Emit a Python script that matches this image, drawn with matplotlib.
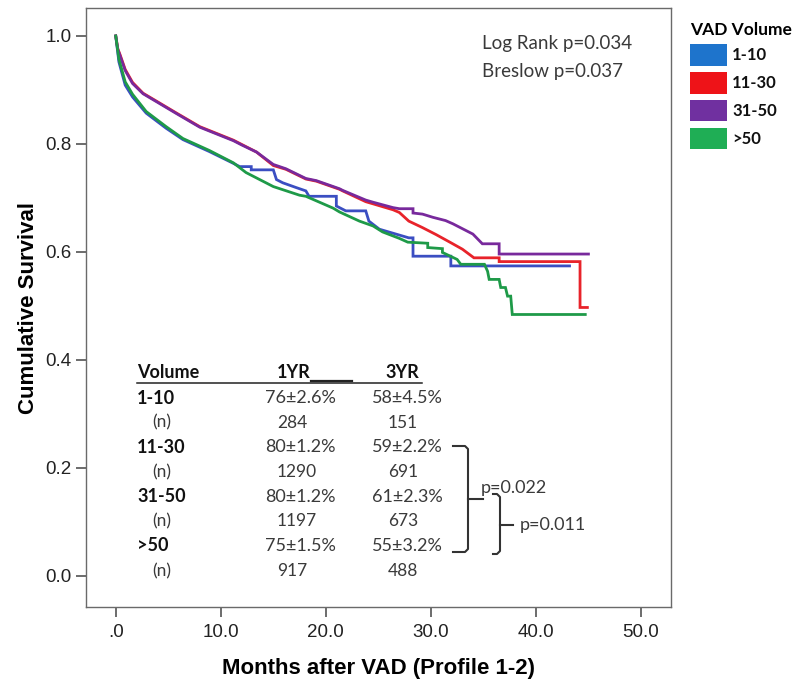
import matplotlib
matplotlib.use('Agg')
import matplotlib.pyplot as plt
from matplotlib.patches import Patch
from matplotlib.lines import Line2D

W, H = 800, 691

# ---------------- data ----------------
groups = ['1-10', '11-30', '31-50', '>50']
line_colors = ['#3b4ec2', '#e8232a', '#78299c', '#1e9a48']
legend_colors = ['#1e74cc', '#ee1318', '#7030a0', '#1fae55']

t_1_10 = [0, 0.3, 0.9, 1.6, 2.9, 4.8, 6.4, 8.9, 11.2, 11.8, 12.9, 12.9, 15.0, 15.3, 15.9, 17.2, 18.1, 18.4,
          21.0, 21.0, 21.9, 23.8, 24.1, 25.1, 27.9, 28.3, 28.3, 31.9, 31.9, 43.2]
s_1_10 = [1.0, 0.952, 0.909, 0.887, 0.857, 0.829, 0.808, 0.786, 0.764, 0.758, 0.758, 0.752, 0.752, 0.734,
          0.728, 0.719, 0.713, 0.703, 0.703, 0.685, 0.676, 0.676, 0.657, 0.642, 0.626, 0.626, 0.592, 0.592,
          0.574, 0.574]

t_11_30 = [0, 0.2, 0.4, 0.9, 1.6, 2.6, 3.9, 5.8, 8.0, 11.2, 12.0, 13.4, 15.0, 16.2, 18.1, 19.1, 21.3, 21.6,
           23.8, 24.5, 26.4, 27.0, 27.9, 29.2, 30.5, 31.9, 33.0, 34.1, 36.5, 36.5, 44.2, 44.2, 44.9]
s_11_30 = [1.0, 0.976, 0.966, 0.938, 0.914, 0.894, 0.879, 0.857, 0.832, 0.807, 0.799, 0.785, 0.760, 0.753,
           0.735, 0.731, 0.716, 0.713, 0.693, 0.689, 0.678, 0.673, 0.657, 0.645, 0.632, 0.617, 0.605, 0.589,
           0.589, 0.582, 0.582, 0.497, 0.497]

t_31_50 = [0, 0.2, 0.4, 0.9, 1.6, 2.6, 3.9, 5.8, 8.0, 11.2, 12.0, 13.4, 15.0, 16.2, 18.1, 19.1, 21.3, 21.6,
           23.8, 24.5, 26.4, 27.0, 28.3, 28.3, 29.2, 30.2, 31.4, 32.1, 32.7, 33.3, 34.0, 34.6, 34.9, 36.5,
           36.5, 45.0]
s_31_50 = [1.0, 0.975, 0.964, 0.936, 0.912, 0.893, 0.878, 0.856, 0.831, 0.806, 0.798, 0.785, 0.762, 0.754,
           0.736, 0.732, 0.717, 0.714, 0.696, 0.692, 0.682, 0.680, 0.680, 0.672, 0.670, 0.664, 0.658, 0.652,
           0.646, 0.640, 0.633, 0.621, 0.615, 0.615, 0.596, 0.596]

t_gt50 = [0, 0.3, 0.9, 1.6, 2.9, 4.8, 6.4, 8.9, 11.2, 12.4, 15.0, 17.5, 18.1, 20.7, 21.3, 23.2, 24.5, 25.4,
          27.0, 27.8, 29.7, 29.7, 31.1, 31.1, 32.5, 32.85, 35.1, 35.4, 35.55, 36.5, 36.65, 37.1, 37.3, 37.6,
          37.75, 44.7]
s_gt50 = [1.0, 0.957, 0.915, 0.892, 0.860, 0.832, 0.810, 0.788, 0.765, 0.747, 0.721, 0.705, 0.703, 0.681,
          0.674, 0.657, 0.648, 0.637, 0.625, 0.618, 0.616, 0.608, 0.606, 0.599, 0.586, 0.577, 0.577, 0.564,
          0.549, 0.549, 0.534, 0.534, 0.518, 0.518, 0.484, 0.484]

curves_t = [t_1_10, t_11_30, t_31_50, t_gt50]
curves_s = [s_1_10, s_11_30, s_31_50, s_gt50]

x_ticks = [0, 10, 20, 30, 40, 50]
x_ticklabels = ['.0', '10.0', '20.0', '30.0', '40.0', '50.0']
y_ticks = [0.0, 0.2, 0.4, 0.6, 0.8, 1.0]
y_ticklabels = ['0.0', '0.2', '0.4', '0.6', '0.8', '1.0']

stat_lines = ['Log Rank p=0.034', 'Breslow p=0.037']

table_header = ['Volume', '1YR', '3YR']
table_labels = ['1-10', '11-30', '31-50', '>50']
yr1_values = ['76±2.6%', '80±1.2%', '80±1.2%', '75±1.5%']
yr3_values = ['58±4.5%', '59±2.2%', '61±2.3%', '55±3.2%']
yr1_n = ['284', '1290', '1197', '917']
yr3_n = ['151', '691', '673', '488']
bracket_p = ['p=0.022', 'p=0.011']

# ---------------- figure ----------------
CAL = ['Lato', 'DejaVu Sans']
ARI = ['Liberation Sans', 'DejaVu Sans']

fig = plt.figure(figsize=(W / 100, H / 100), dpi=100)
ax = fig.add_axes([85.7 / W, 1 - 607.3 / H, (671 - 85.7) / W, (607.3 - 8.3) / H])

for t, s, c in zip(curves_t, curves_s, line_colors):
    ax.plot(t, s, color=c, lw=2.0, solid_joinstyle='miter')

ax.set_xlim(-2.86, 52.86)
ax.set_ylim(-0.0585, 1.0513)
ax.set_xticks(x_ticks)
ax.set_xticklabels(x_ticklabels, family=ARI, fontsize=13.5, color='#222222')
ax.set_yticks(y_ticks)
ax.set_yticklabels(y_ticklabels, family=ARI, fontsize=13.5, color='#222222')
ax.tick_params(direction='out', length=7.5, width=1.1, color='#444444', pad=2.5)
ax.tick_params(axis='x', pad=4.5)
for sp in ax.spines.values():
    sp.set_color('#6a6a6a')
    sp.set_linewidth(1.0)

ax.set_xlabel('Months after VAD (Profile 1-2)', family=ARI, fontsize=16, weight='bold', labelpad=12)
ax.set_ylabel('Cumulative Survival', family=ARI, fontsize=16, weight='bold', labelpad=5)


def fx(px):
    return px / W


def fy(py):
    return 1 - py / H


# stats text
for i, txt in enumerate(stat_lines):
    fig.text(fx(482), fy(44 + 27 * i), txt, family=CAL, fontsize=13.5, color='#3a3a3a',
             ha='left', va='center')

# table
hdr_y = 373
fig.text(fx(137), fy(hdr_y), table_header[0], family=CAL, fontsize=13, weight='bold', color='#111111',
         ha='left', va='center')
fig.text(fx(277), fy(hdr_y), table_header[1], family=CAL, fontsize=13, weight='bold', color='#111111',
         ha='left', va='center')
fig.text(fx(402), fy(hdr_y), table_header[2], family=CAL, fontsize=13, weight='bold', color='#111111',
         ha='center', va='center')
fig.add_artist(Line2D([fx(137), fx(422)], [fy(382.5), fy(382.5)], transform=fig.transFigure,
                      color='#222222', lw=1.1))
fig.add_artist(Line2D([fx(311), fx(352)], [fy(381.3), fy(381.3)], transform=fig.transFigure,
                      color='#222222', lw=1.6))

for i in range(4):
    yv = 398 + 49.3 * i
    yn = 422.5 + 49.5 * i
    fig.text(fx(137), fy(yv), table_labels[i], family=CAL, fontsize=13, weight='bold', color='#111111',
             ha='left', va='center')
    fig.text(fx(265), fy(yv), yr1_values[i], family=CAL, fontsize=13, color='#3a3a3a',
             ha='left', va='center')
    fig.text(fx(372), fy(yv), yr3_values[i], family=CAL, fontsize=13, color='#3a3a3a',
             ha='left', va='center')
    fig.text(fx(152), fy(yn), '(n)', family=CAL, fontsize=12.5, color='#3a3a3a', ha='left', va='center')
    fig.text(fx(277), fy(yn), yr1_n[i], family=CAL, fontsize=12.5, color='#3a3a3a', ha='left', va='center')
    fig.text(fx(403), fy(yn), yr3_n[i], family=CAL, fontsize=12.5, color='#3a3a3a', ha='center', va='center')


def bracket(xl, xr, ytop, ybot, ymid, xtip):
    r = 3
    xs = [xl, xr - r, xr, xr, xr - r, xl]
    ys = [ytop, ytop, ytop + r, ybot - r, ybot, ybot]
    fig.add_artist(Line2D([fx(v) for v in xs], [fy(v) for v in ys], transform=fig.transFigure,
                          color='#333333', lw=1.5, solid_joinstyle='round'))
    fig.add_artist(Line2D([fx(xr), fx(xtip)], [fy(ymid), fy(ymid)], transform=fig.transFigure,
                          color='#333333', lw=1.5))


bracket(453, 468, 446, 552, 499, 483)
fig.text(fx(481), fy(488), bracket_p[0], family=CAL, fontsize=13, color='#3a3a3a', ha='left', va='center')
bracket(493, 500, 494, 554, 525, 513)
fig.text(fx(520), fy(525), bracket_p[1], family=CAL, fontsize=13, color='#3a3a3a', ha='left', va='center')

# legend
handles = [Patch(facecolor=c, edgecolor='none') for c in legend_colors]
leg = fig.legend(handles, groups, title='VAD Volume', loc='upper left',
                 bbox_to_anchor=(fx(690), fy(22)), frameon=False,
                 prop=dict(family=CAL, weight='bold', size=12),
                 title_fontproperties=dict(family=CAL, weight='bold', size=12.5),
                 alignment='left', handlelength=2.22, handleheight=1.6, labelspacing=0.38,
                 handletextpad=0.3, borderpad=0, borderaxespad=0)
for txt in leg.get_texts():
    txt.set_color('#111111')

fig.savefig('out.png', dpi=100)
